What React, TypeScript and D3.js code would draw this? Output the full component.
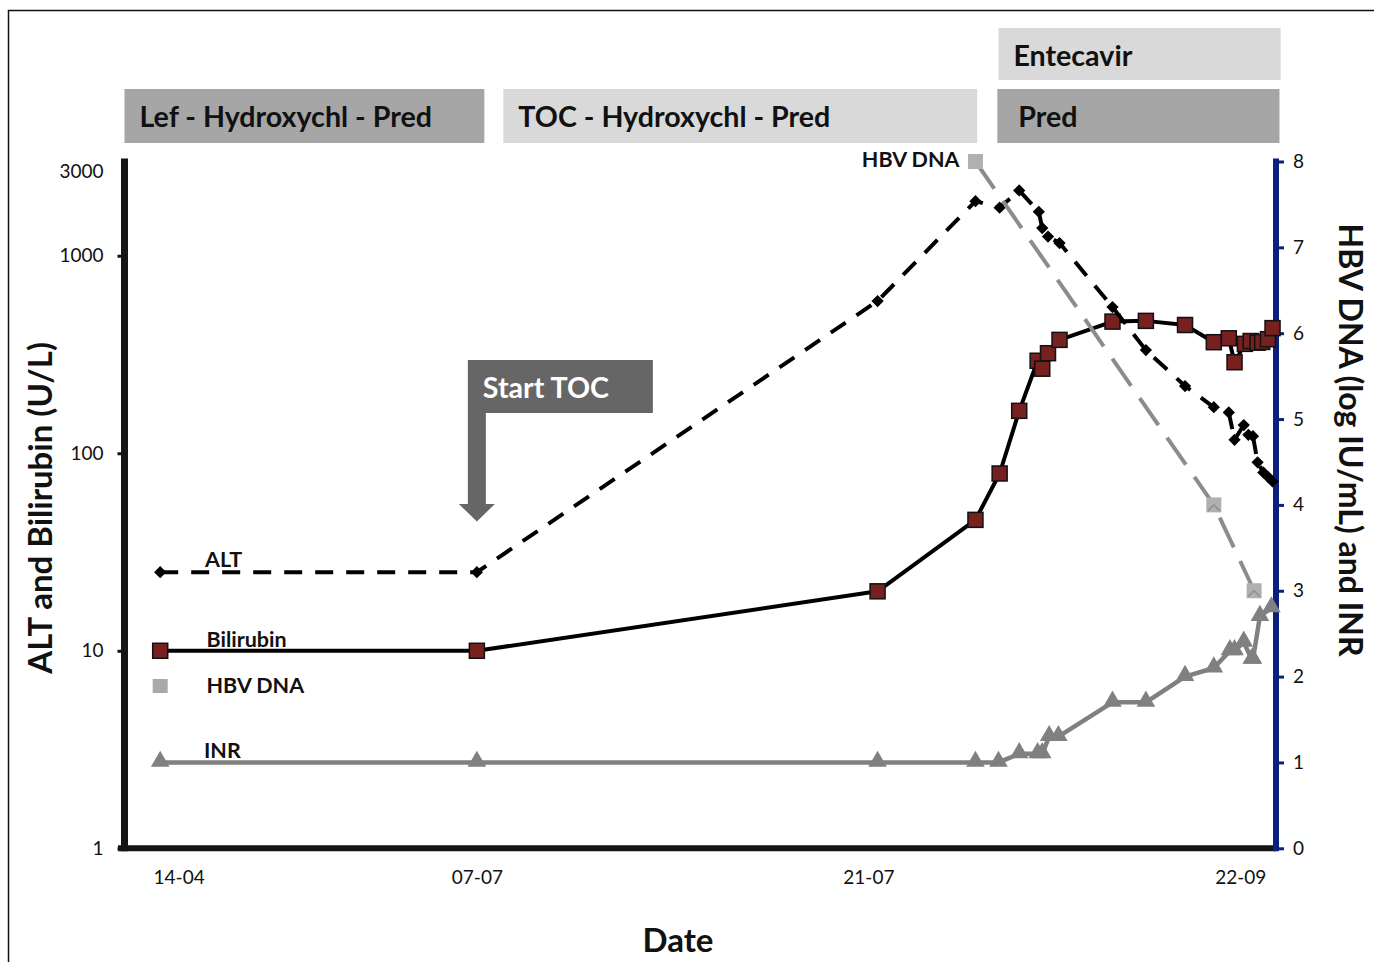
import { useEffect, useRef } from "react";
import * as d3 from "d3";

// The date axis of the source figure is not to scale (it is broken between visits),
// so time is kept in chart units from 0 to 100 along the x axis.
const dateLabels = ["14-04", "07-07", "21-07", "22-09"];
const datePos = [4.7, 30.6, 64.6, 96.9];

// ALT (U/L), left log axis
const altT = [3.1, 30.6, 65.4, 73.9, 76.0, 77.7, 79.4, 79.7, 80.2, 81.2, 85.8, 88.7, 92.1, 94.6, 95.9, 96.4, 97.2, 97.6, 98.0, 98.4, 98.9, 99.3, 99.7];
const altValues = [25, 25, 590, 1890, 1750, 2140, 1670, 1380, 1250, 1160, 550, 333, 219, 171, 161, 117, 139, 124, 122, 90, 80, 76, 72];

// Bilirubin, left log axis
const biliT = [3.1, 30.6, 65.4, 73.9, 76.0, 77.7, 79.3, 79.7, 80.2, 81.2, 85.8, 88.7, 92.1, 94.6, 95.9, 96.4, 97.3, 97.8, 98.4, 98.8, 99.3, 99.7];
const biliValues = [10, 10, 20, 46, 79, 164, 294, 268, 321, 375, 464, 468, 446, 365, 382, 289, 358, 370, 363, 366, 378, 430];

// INR, right axis
const inrT = [3.1, 30.6, 65.4, 73.9, 75.9, 77.7, 79.3, 79.7, 80.3, 81.1, 85.8, 88.7, 92.1, 94.6, 96.0, 96.4, 97.2, 97.9, 98.0, 98.6, 99.6];
const inrValues = [1.0, 1.0, 1.0, 1.0, 1.0, 1.1, 1.1, 1.1, 1.3, 1.3, 1.7, 1.7, 2.0, 2.1, 2.3, 2.3, 2.4, 2.2, 2.2, 2.7, 2.8];

// HBV DNA (log IU/mL), right axis
const hbvT = [73.9, 94.6, 98.1];
const hbvValues = [8, 4, 3];

const leftTicks = [1, 10, 100, 1000, 3000];
const rightTicks = [0, 1, 2, 3, 4, 5, 6, 7, 8];

// treatment periods shown above the plot
const regimenLabels = ["Lef - Hydroxychl - Pred", "TOC - Hydroxychl - Pred", "Pred", "Entecavir"];
const regimenStart = [0, 32.9, 75.8, 75.9];
const regimenEnd = [31.25, 74.05, 100.3, 100.4];
const regimenRow = [0, 0, 0, 1];
const regimenFill = ["#a6a6a6", "#d9d9d9", "#a6a6a6", "#d9d9d9"];

const startTocT = 30.6;

const FONT = "Lato, 'Open Sans', sans-serif";

export default function App() {
  const ref = useRef<SVGSVGElement>(null);

  useEffect(() => {
    const width = 1374;
    const height = 962;
    const left = 124.5;
    const right = 1276;
    const top = 161.5;
    const bottom = 848.3;

    const svg = d3.select(ref.current)
      .attr("width", width)
      .attr("height", height)
      .attr("viewBox", `0 0 ${width} ${height}`)
      .style("font-family", FONT);

    svg.selectAll("*").remove();

    const x = d3.scaleLinear().domain([0, 100]).range([left, right]);
    const yL = d3.scaleLog().domain([1, 3000]).range([bottom, top]);
    const yR = d3.scaleLinear().domain([0, 8]).range([bottom, top]);

    // --- frame ---
    svg.append("rect")
      .attr("x", 8.5).attr("y", 10.5)
      .attr("width", 1400).attr("height", 1000)
      .attr("fill", "white").attr("stroke", "#111").attr("stroke-width", 1.5);

    // --- regimen banners ---
    const rowY = [89, 28];
    const rowH = [54, 52];
    regimenLabels.forEach((label, i) => {
      const r = regimenRow[i];
      svg.append("rect")
        .attr("x", x(regimenStart[i]))
        .attr("y", rowY[r])
        .attr("width", x(regimenEnd[i]) - x(regimenStart[i]))
        .attr("height", rowH[r])
        .attr("fill", regimenFill[i]);
      svg.append("text")
        .attr("x", x(regimenStart[i]) + (i === 2 ? 21 : 15))
        .attr("y", rowY[r] + 38)
        .attr("font-size", 28.6)
        .attr("font-weight", 700)
        .attr("fill", "#111")
        .text(label);
    });

    // --- Start TOC callout ---
    const ax = x(startTocT);
    const callout = d3.path();
    callout.moveTo(ax - 9, 360);
    callout.lineTo(ax + 176, 360);
    callout.lineTo(ax + 176, 413);
    callout.lineTo(ax + 9, 413);
    callout.lineTo(ax + 9, 504);
    callout.lineTo(ax + 18, 504);
    callout.lineTo(ax, 521.5);
    callout.lineTo(ax - 18, 504);
    callout.lineTo(ax - 9, 504);
    callout.closePath();
    svg.append("path").attr("d", callout.toString()).attr("fill", "#666666");
    svg.append("text")
      .attr("x", ax + 6).attr("y", 398)
      .attr("font-size", 28.6).attr("font-weight", 700)
      .attr("fill", "white")
      .text("Start TOC");

    // --- axes ---
    const gL = svg.append("g")
      .attr("transform", `translate(${left},0)`)
      .call(d3.axisLeft(yL).tickValues(leftTicks).tickFormat(d3.format("d")).tickSize(7).tickPadding(14).tickSizeOuter(0));
    gL.select(".domain").remove();
    gL.selectAll(".tick line").attr("stroke", "#111").attr("stroke-width", 3);
    gL.selectAll<SVGGElement, number>(".tick").filter(d => d === 3000).select("line").remove();
    gL.selectAll<SVGGElement, number>(".tick").filter(d => d === 3000).select("text").attr("dy", "0.85em");
    gL.selectAll(".tick text").attr("font-size", 19).attr("font-family", FONT).attr("fill", "#111");

    const gR = svg.append("g")
      .attr("transform", `translate(${right},0)`)
      .call(d3.axisRight(yR).tickValues(rightTicks).tickFormat(d3.format("d")).tickSize(8).tickPadding(9).tickSizeOuter(0));
    gR.select(".domain").remove();
    gR.selectAll(".tick line").attr("stroke", "#0c1f7a").attr("stroke-width", 3);
    gR.selectAll(".tick text").attr("font-size", 19).attr("font-family", FONT).attr("fill", "#111");

    const gB = svg.append("g")
      .attr("transform", `translate(0,${bottom})`)
      .call(d3.axisBottom(x).tickValues(datePos).tickFormat((_, i) => dateLabels[i]).tickSize(0).tickPadding(22));
    gB.select(".domain").remove();
    gB.selectAll(".tick text").attr("font-size", 19).attr("font-family", FONT).attr("fill", "#111");

    svg.append("line")
      .attr("x1", left).attr("x2", left).attr("y1", top - 3).attr("y2", bottom + 3)
      .attr("stroke", "#141414").attr("stroke-width", 7);
    svg.append("line")
      .attr("x1", left - 6.5).attr("x2", right).attr("y1", bottom).attr("y2", bottom)
      .attr("stroke", "#141414").attr("stroke-width", 6);
    svg.append("line")
      .attr("x1", right).attr("x2", right).attr("y1", top - 3).attr("y2", bottom + 3)
      .attr("stroke", "#0c1f7a").attr("stroke-width", 6);

    // --- axis titles ---
    svg.append("text")
      .attr("transform", `translate(52,${(top + bottom) / 2 + 3}) rotate(-90)`)
      .attr("text-anchor", "middle")
      .attr("font-size", 33).attr("font-weight", 700).attr("fill", "#111")
      .text("ALT and Bilirubin (U/L)");
    svg.append("text")
      .attr("transform", `translate(1339,440) rotate(90)`)
      .attr("text-anchor", "middle")
      .attr("font-size", 32).attr("font-weight", 700).attr("fill", "#111")
      .text("HBV DNA (log IU/mL) and INR");
    svg.append("text")
      .attr("x", 678).attr("y", 952)
      .attr("text-anchor", "middle")
      .attr("font-size", 33).attr("font-weight", 700).attr("fill", "#111")
      .text("Date");

    // --- series ---
    const altPts: [number, number][] = altT.map((t, i) => [x(t), yL(altValues[i])]);
    const biliPts: [number, number][] = biliT.map((t, i) => [x(t), yL(biliValues[i])]);
    const inrPts: [number, number][] = inrT.map((t, i) => [x(t), yR(inrValues[i])]);
    const hbvPts: [number, number][] = hbvT.map((t, i) => [x(t), yR(hbvValues[i])]);
    const line = d3.line();

    // INR
    svg.append("path").attr("d", line(inrPts))
      .attr("fill", "none").attr("stroke", "#808080").attr("stroke-width", 4.5).attr("stroke-linejoin", "round");
    svg.append("g").selectAll("path").data(inrPts).join("path")
      .attr("transform", d => `translate(${d[0]},${d[1] - 1})`)
      .attr("d", d3.symbol(d3.symbolTriangle, 150)())
      .attr("fill", "#808080");

    // Bilirubin
    svg.append("path").attr("d", line(biliPts))
      .attr("fill", "none").attr("stroke", "#000").attr("stroke-width", 4).attr("stroke-linejoin", "round");
    svg.append("g").selectAll("rect").data(biliPts).join("rect")
      .attr("x", d => d[0] - 7.5).attr("y", d => d[1] - 7.5)
      .attr("width", 15).attr("height", 15)
      .attr("fill", "#772020").attr("stroke", "#111").attr("stroke-width", 1.5);

    // ALT
    svg.append("path").attr("d", line(altPts))
      .attr("fill", "none").attr("stroke", "#000").attr("stroke-width", 4)
      .attr("stroke-dasharray", "18,13");
    svg.append("g").selectAll("path").data(altPts).join("path")
      .attr("transform", d => `translate(${d[0]},${d[1]}) rotate(45)`)
      .attr("d", d3.symbol(d3.symbolSquare, 75)())
      .attr("fill", "#000");

    // HBV DNA
    svg.append("path").attr("d", line(hbvPts))
      .attr("fill", "none").attr("stroke", "#8c8c8c").attr("stroke-width", 4)
      .attr("stroke-dasharray", "33,15");
    const hbvMarks = svg.append("g").selectAll("g").data(hbvPts).join("g")
      .attr("transform", d => `translate(${d[0]},${d[1]})`);
    hbvMarks.append("rect")
      .attr("x", -7.5).attr("y", -7.5).attr("width", 15).attr("height", 15)
      .attr("fill", "#b0b0b0");
    hbvMarks.filter((_, i) => i > 0).append("path")
      .attr("d", "M-6,6L0,0L6,6")
      .attr("fill", "none").attr("stroke", "#8f8f8f").attr("stroke-width", 1.5);

    // --- series labels ---
    const lab = (tx: number, ty: number, s: string, anchor = "start") =>
      svg.append("text")
        .attr("x", tx).attr("y", ty)
        .attr("text-anchor", anchor)
        .attr("font-size", 21.5).attr("font-weight", 700).attr("fill", "#111")
        .text(s);
    lab(205, 567, "ALT");
    lab(206.5, 646.5, "Bilirubin");
    lab(206.5, 692.5, "HBV DNA");
    lab(204, 758, "INR");
    lab(x(hbvT[0]) - 16, 167, "HBV DNA", "end");

    // legend swatch for HBV DNA
    svg.append("rect")
      .attr("x", x(altT[0]) - 7.5).attr("y", 679)
      .attr("width", 15).attr("height", 14)
      .attr("fill", "#a9a9a9");
  }, []);

  return (
    <div style={{ position: "absolute", left: 0, top: 0 }}>
      <svg ref={ref} style={{ display: "block" }}></svg>
    </div>
  );
}
